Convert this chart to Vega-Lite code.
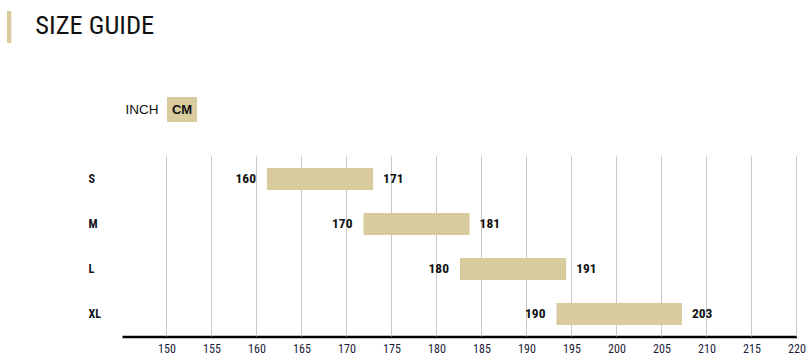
{
  "$schema": "https://vega.github.io/schema/vega-lite/v6.json",
  "autosize": {"type": "pad"},
  "padding": {"left": 7, "top": 11, "right": 0, "bottom": 0},
  "background": "white",
  "config": {"view": {"stroke": null}},
  "spacing": 54,
  "vconcat": [
    {
      "bounds": "flush",
      "spacing": 0,
      "hconcat": [
        {
          "width": 4.3,
          "height": 32,
          "data": {"values": [{"part": "accent"}]},
          "mark": {"type": "rect", "color": "#d8cb9e"},
          "encoding": {}
        },
        {
          "width": 46.6,
          "height": 32,
          "data": {"values": [{"title": "SIZE GUIDE"}]},
          "mark": {"type": "text", "align": "left", "baseline": "middle", "dy": -1, "font": "Roboto Condensed, Liberation Sans Narrow, DejaVu Sans Condensed, sans-serif", "fontSize": 26.5, "color": "#111111"},
          "encoding": {"text": {"field": "title"}}
        }
      ]
    },
    {
      "spacing": 33.5,
      "vconcat": [
        {
          "bounds": "flush",
          "spacing": 0,
          "hconcat": [
            {"width": 115, "height": 25, "data": {"values": []}, "mark": "rect"},
            {
              "width": 80,
              "height": 25,
              "data": {"values": [{"unit": "INCH", "selected": false}, {"unit": "CM", "selected": true}]},
              "encoding": {
                "x": {"field": "unit", "type": "nominal", "sort": ["INCH", "CM"], "scale": {"paddingInner": 0.25, "paddingOuter": 0.125}, "axis": null}
              },
              "layer": [
                {"transform": [{"filter": "datum.selected"}], "mark": {"type": "rect", "color": "#d8cb9e"}},
                {"transform": [{"filter": "!datum.selected"}], "mark": {"type": "text", "font": "Liberation Sans, Arial, sans-serif", "fontSize": 13.5, "color": "#111111"}, "encoding": {"text": {"field": "unit"}}},
                {"transform": [{"filter": "datum.selected"}], "mark": {"type": "text", "font": "Liberation Sans, Arial, sans-serif", "fontSize": 13, "fontWeight": "bold", "color": "#111111"}, "encoding": {"text": {"field": "unit"}}}
              ]
            }
          ]
        },
        {
          "bounds": "flush",
          "spacing": 0,
          "hconcat": [
            {"width": 115, "height": 180, "data": {"values": []}, "mark": "rect"},
            {
              "width": 674.5,
              "height": 180,
              "resolve": {"scale": {"x": "independent"}, "axis": {"x": "independent"}},
              "layer": [
                {
                  "data": {"values": [{"v": 150}, {"v": 155}, {"v": 160}, {"v": 165}, {"v": 170}, {"v": 175}, {"v": 180}, {"v": 185}, {"v": 190}, {"v": 195}, {"v": 200}, {"v": 205}, {"v": 210}, {"v": 215}, {"v": 220}]},
                  "mark": {"type": "rule", "color": "#c8c8c8", "strokeWidth": 1},
                  "encoding": {
                    "x": {
                      "field": "v", "type": "quantitative",
                      "scale": {"domain": [145.05556, 220], "nice": false, "zero": false},
                      "axis": {
                        "values": [150, 155, 160, 165, 170, 175, 180, 185, 190, 195, 200, 205, 210, 215, 220],
                        "title": null, "grid": false, "ticks": false, "tickSize": 0,
                        "domain": true, "domainColor": "#000000", "domainWidth": 2.5,
                        "labelFont": "Roboto Condensed, Liberation Sans Narrow, DejaVu Sans Condensed, sans-serif",
                        "labelFontSize": 12, "labelColor": "#1c1c3a", "labelPadding": 7, "labelFlush": false
                      }
                    }
                  }
                },
                {
                  "data": {"values": [
                    {"size": "S", "start": 160, "end": 171},
                    {"size": "M", "start": 170, "end": 181},
                    {"size": "L", "start": 180, "end": 191},
                    {"size": "XL", "start": 190, "end": 203}
                  ]},
                  "encoding": {
                    "y": {
                      "field": "size", "type": "nominal", "sort": ["S", "M", "L", "XL"],
                      "scale": {"paddingInner": 0.51, "paddingOuter": 0.255},
                      "axis": {
                        "title": null, "domain": false, "ticks": false, "tickSize": 0, "grid": false,
                        "labelAlign": "left", "labelPadding": 34,
                        "labelFont": "Roboto Condensed, Liberation Sans Narrow, DejaVu Sans Condensed, sans-serif",
                        "labelFontSize": 12, "labelFontWeight": "bold", "labelColor": "#111122"
                      }
                    }
                  },
                  "layer": [
                    {
                      "mark": {"type": "bar", "color": "#d8cb9e"},
                      "encoding": {
                        "x": {"field": "start", "type": "quantitative", "scale": {"domain": [144.98, 214.87], "nice": false, "zero": false}, "axis": null},
                        "x2": {"field": "end"}
                      }
                    },
                    {
                      "mark": {"type": "text", "align": "right", "baseline": "middle", "dx": -11, "font": "Roboto Condensed, Liberation Sans Narrow, DejaVu Sans Condensed, sans-serif", "fontSize": 13.5, "fontWeight": "bold", "color": "#111111"},
                      "encoding": {
                        "x": {"field": "start", "type": "quantitative"},
                        "text": {"field": "start", "type": "quantitative"}
                      }
                    },
                    {
                      "mark": {"type": "text", "align": "left", "baseline": "middle", "dx": 10, "font": "Roboto Condensed, Liberation Sans Narrow, DejaVu Sans Condensed, sans-serif", "fontSize": 13.5, "fontWeight": "bold", "color": "#111111"},
                      "encoding": {
                        "x": {"field": "end", "type": "quantitative"},
                        "text": {"field": "end", "type": "quantitative"}
                      }
                    }
                  ]
                }
              ]
            }
          ]
        }
      ]
    }
  ]
}
